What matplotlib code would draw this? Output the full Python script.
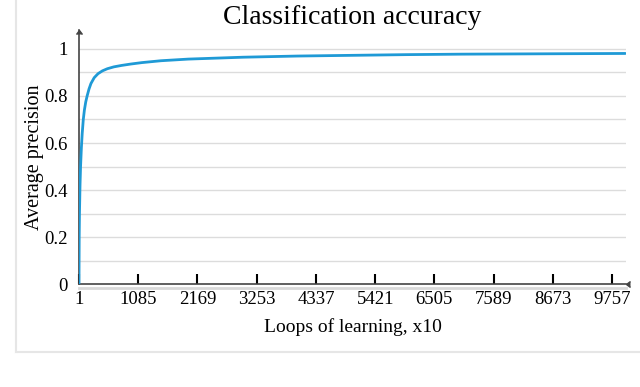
import matplotlib
matplotlib.use('Agg')
import matplotlib.pyplot as plt
from matplotlib.lines import Line2D

# Datos
loops = [1, 5, 10, 20, 30, 45, 60, 80, 100, 125, 150, 185, 220, 280, 350,
         430, 520, 640, 780, 950, 1150, 1500, 2000, 3000, 4000, 5000, 6000,
         7000, 8000, 9000, 10000]
precision = [0, 0.2, 0.3, 0.42, 0.5, 0.58, 0.64, 0.7, 0.74, 0.775, 0.8,
             0.83, 0.853, 0.878, 0.895, 0.907, 0.916, 0.924, 0.93, 0.936,
             0.942, 0.95, 0.957, 0.965, 0.97, 0.973, 0.976, 0.978, 0.979,
             0.98, 0.981]
xticks = [1, 1085, 2169, 3253, 4337, 5421, 6505, 7589, 8673, 9757]
yticks = [0, 0.2, 0.4, 0.6, 0.8, 1]
ylabels = ['0', '0.2', '0.4', '0.6', '0.8', '1']
grid_y = [0.1, 0.2, 0.3, 0.4, 0.5, 0.6, 0.7, 0.8, 0.9, 1.0]

plt.rcParams['font.family'] = ['Liberation Serif', 'DejaVu Serif']

fig = plt.figure(figsize=(6.4, 3.87), dpi=100)
ax = fig.add_axes([0.1234, 0.2661, 0.978 - 0.1234, 0.922 - 0.2661])

# marco gris de la figura
yb = 1 - 352/387
fig.add_artist(Line2D([16/640, 16/640], [yb, 1], color='#e6e6e6', lw=1.5))
fig.add_artist(Line2D([16/640, 1], [yb, yb], color='#e6e6e6', lw=1.5))
# sombra bajo el eje x
fig.add_artist(Line2D([79/640, 626/640], [1 - 288/387, 1 - 288/387], color='#d9d9d9', lw=2))

for g in grid_y:
    ax.axhline(g, color='#dcdcdc', lw=1, zorder=0)

ax.plot(loops, precision, color='#1f9ad6', lw=2, zorder=3,
        solid_capstyle='round', solid_joinstyle='round')

ax.set_xlim(1, 10010)
ax.set_ylim(0, 1.08)

for s in ['top', 'right']:
    ax.spines[s].set_visible(False)
for s in ['left', 'bottom']:
    ax.spines[s].set_color('#444444')
    ax.spines[s].set_linewidth(1.2)

# flechas de los ejes
ax.plot(1, 0, marker=4, color='#444444', markersize=4, transform=ax.transAxes, clip_on=False)
ax.plot(0, 1, marker=6, color='#444444', markersize=4, transform=ax.transAxes, clip_on=False)

ax.set_xticks(xticks)
ax.set_xticklabels([str(v) for v in xticks])
ax.set_yticks(yticks)
ax.set_yticklabels(ylabels)
ax.tick_params(axis='x', direction='in', length=7, width=1.5, color='black',
               labelsize=13.5, pad=5)
ax.tick_params(axis='y', length=0, labelsize=13.5, pad=8)

ax.set_xlabel('Loops of learning, x10', fontsize=14, labelpad=7)
ax.set_ylabel('Average precision', fontsize=14.5, labelpad=0)
ax.set_title('Classification accuracy', fontsize=20, pad=1)

plt.savefig('out.png', dpi=100)
